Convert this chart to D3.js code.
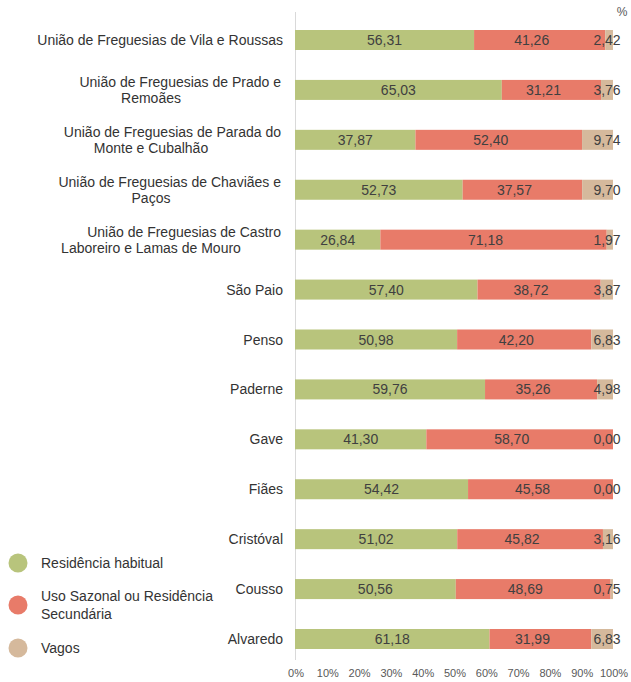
<!DOCTYPE html>
<html>
<head>
<meta charset="utf-8">
<script src="https://cdn.jsdelivr.net/npm/d3@7"></script>
<style>
  body { margin: 0; background: #fff; }
  text { font-family: "Liberation Sans", Arial, sans-serif; }
</style>
</head>
<body>
<div id="chart"></div>
<script>
// categories, top to bottom
var categories = [
  "União de Freguesias de Vila e Roussas",
  "União de Freguesias de Prado e|Remoães",
  "União de Freguesias de Parada do|Monte e Cubalhão",
  "União de Freguesias de Chaviães e|Paços",
  "União de Freguesias de Castro|Laboreiro e Lamas de Mouro",
  "São Paio",
  "Penso",
  "Paderne",
  "Gave",
  "Fiães",
  "Cristóval",
  "Cousso",
  "Alvaredo"
];
var habitual = [56.31, 65.03, 37.87, 52.73, 26.84, 57.40, 50.98, 59.76, 41.30, 54.42, 51.02, 50.56, 61.18];
var sazonal  = [41.26, 31.21, 52.40, 37.57, 71.18, 38.72, 42.20, 35.26, 58.70, 45.58, 45.82, 48.69, 31.99];
var vagos    = [2.42, 3.76, 9.74, 9.70, 1.97, 3.87, 6.83, 4.98, 0.00, 0.00, 3.16, 0.75, 6.83];
var seriesNames = ["Residência habitual", "Uso Sazonal ou Residência|Secundária", "Vagos"];
var xTicks = [0, 0.1, 0.2, 0.3, 0.4, 0.5, 0.6, 0.7, 0.8, 0.9, 1];

var colors = ["#b8c47c", "#e87b69", "#d5b99c"];
var width = 631, height = 682;
var fs = "14px";

var svg = d3.select("#chart").append("svg")
  .attr("width", width).attr("height", height);

var x = d3.scaleLinear().domain([0, 100]).range([295, 613]);
var y = d3.scalePoint().domain(categories).range([40, 639]);
var barH = 20;

// axis line
svg.append("line")
  .attr("x1", 295.5).attr("x2", 295.5)
  .attr("y1", 12).attr("y2", 660)
  .attr("stroke", "#d9d9d9").attr("stroke-width", 1);

var rows = categories.map(function(c, i) {
  var vals = [habitual[i], sazonal[i], vagos[i]];
  var start = 0;
  return vals.map(function(v, k) {
    var seg = {cat: c, k: k, v: v, x0: start, x1: start + v};
    start += v;
    return seg;
  });
});

var segs = svg.append("g").selectAll("g")
  .data(rows).enter().append("g");

segs.selectAll("rect")
  .data(function(d) { return d; })
  .enter().append("rect")
  .attr("x", function(d) { return x(d.x0); })
  .attr("width", function(d) { return x(d.x1) - x(d.x0); })
  .attr("y", function(d) { return y(d.cat) - barH / 2; })
  .attr("height", barH)
  .attr("fill", function(d) { return colors[d.k]; });

segs.selectAll("text")
  .data(function(d) { return d; })
  .enter().append("text")
  .attr("x", function(d) {
    if (d.k === 2) return x(100) - 6;
    return (x(d.x0) + x(d.x1)) / 2 - (d.k === 1 ? 8 : 0);
  })
  .attr("y", function(d) { return y(d.cat); })
  .attr("dy", "0.36em")
  .attr("text-anchor", "middle")
  .attr("font-size", fs)
  .attr("fill", "#404040")
  .text(function(d) { return d3.format(".2f")(d.v).replace(".", ","); });

// category labels
var labels = svg.append("g").selectAll("g")
  .data(categories).enter().append("g");

labels.each(function(c) {
  var g = d3.select(this);
  var parts = c.split("|");
  var cy = y(c);
  if (parts.length === 1) {
    g.append("text").attr("x", 283).attr("y", cy).attr("dy", "0.36em")
      .attr("text-anchor", "end").attr("font-size", fs).attr("fill", "#333")
      .text(parts[0]);
  } else {
    g.append("text").attr("x", 281).attr("y", cy - 8).attr("dy", "0.36em")
      .attr("text-anchor", "end").attr("font-size", fs).attr("fill", "#333")
      .text(parts[0]);
    // second line of wrapped labels sits centred under the label block
    g.append("text").attr("x", 151).attr("y", cy + 8).attr("dy", "0.36em")
      .attr("text-anchor", "middle").attr("font-size", fs).attr("fill", "#333")
      .text(parts[1]);
  }
});

// x tick labels
svg.append("g").selectAll("text")
  .data(xTicks).enter().append("text")
  .attr("x", function(d) { return x(d * 100) + 1; })
  .attr("y", 677)
  .attr("text-anchor", "middle")
  .attr("font-size", "11px")
  .attr("fill", "#595959")
  .text(d3.format(".0%"));

svg.append("text")
  .attr("x", 622).attr("y", 16)
  .attr("text-anchor", "middle")
  .attr("font-size", "12px")
  .attr("fill", "#595959")
  .text("%");

// legend
var legY = [563, 605, 648];
var leg = svg.append("g").selectAll("g")
  .data(seriesNames).enter().append("g");
leg.append("circle")
  .attr("cx", 18).attr("cy", function(d, i) { return legY[i]; })
  .attr("r", 9.5)
  .attr("fill", function(d, i) { return colors[i]; });
leg.each(function(d, i) {
  var parts = d.split("|");
  var t = d3.select(this).append("text")
    .attr("x", 41)
    .attr("y", legY[i] - (parts.length - 1) * 9)
    .attr("font-size", fs).attr("fill", "#333");
  parts.forEach(function(p, j) {
    t.append("tspan").attr("x", 41).attr("dy", j === 0 ? "0.36em" : "18").text(p);
  });
});
</script>
</body>
</html>
